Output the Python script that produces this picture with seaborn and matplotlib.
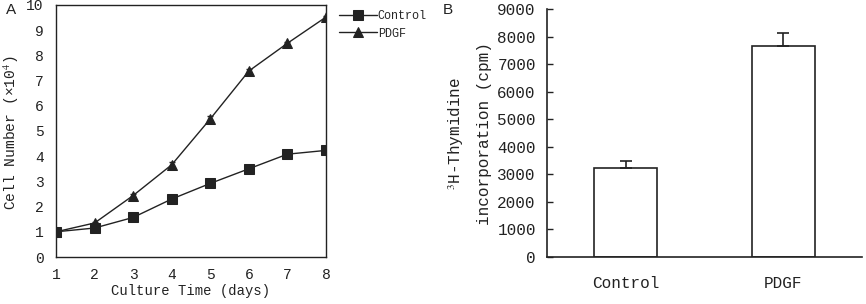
import matplotlib
matplotlib.use("Agg")
import matplotlib.pyplot as plt
import seaborn as sns
import pandas as pd

# growth curve (panel A)
days = [1, 2, 3, 4, 5, 6, 7, 8]
control_cells = [1.0, 1.15, 1.57, 2.30, 2.92, 3.50, 4.08, 4.23]
pdgf_cells = [1.0, 1.35, 2.44, 3.66, 5.48, 7.38, 8.48, 9.52]
pdgf_err = [0.03, 0.05, 0.06, 0.1, 0.1, 0.08, 0.06, 0.05]

# thymidine incorporation (panel B)
groups = ["Control", "PDGF"]
cpm = [3230, 7680]
cpm_err = [260, 470]

sns.set_theme(style="white")
plt.rcParams["font.family"] = ["Liberation Mono", "DejaVu Sans"]
plt.rcParams["mathtext.fontset"] = "stix"
ink = "#222222"

fig = plt.figure(figsize=(8.66, 3.04), dpi=100)
axA = fig.add_axes([0.0647, 0.1546, 0.3117, 0.829])
axB = fig.add_axes([0.6316, 0.1546, 0.3638, 0.815])

# ---- panel A ----
growth = pd.DataFrame({
    "day": days * 2,
    "cells": control_cells + pdgf_cells,
    "group": ["Control"] * len(days) + ["PDGF"] * len(days),
})
sns.lineplot(data=growth, x="day", y="cells", hue="group", style="group",
             markers={"Control": "s", "PDGF": "^"}, dashes=False,
             palette={"Control": ink, "PDGF": ink}, markersize=6.5,
             linewidth=1, markeredgecolor=ink, ax=axA)
axA.errorbar(days, pdgf_cells, yerr=pdgf_err, fmt="none", ecolor=ink,
             elinewidth=0.8, capsize=2.5)
axA.set_xlim(1, 8)
axA.set_ylim(0, 10)
axA.set_xticks(days)
axA.set_yticks(range(0, 11))
axA.tick_params(direction="in", length=3, width=0.8, color=ink,
                labelsize=10.5, labelcolor=ink)
axA.tick_params(axis="y", pad=9)
axA.tick_params(axis="x", pad=8)
for s in axA.spines.values():
    s.set_color(ink)
    s.set_linewidth(1)
axA.set_xlabel("Culture Time (days)", fontsize=10, color=ink)
axA.xaxis.set_label_coords(0.5, -0.108)
axA.set_ylabel("Cell Number (×10$^4$) ", fontsize=10.5, color=ink)
axA.yaxis.set_label_coords(-0.128, 0.5)
axA.legend(loc="upper left", bbox_to_anchor=(1.03, 1.0), frameon=False,
           handlelength=3.2, handletextpad=0.1, fontsize=8.5,
           labelspacing=0.5, borderaxespad=0)

# ---- panel B ----
bars = pd.DataFrame({"group": groups, "cpm": cpm})
sns.barplot(data=bars, x="group", y="cpm", color="white", edgecolor=ink,
            linewidth=1.2, width=0.4, errorbar=None, ax=axB)
axB.errorbar([0, 1], cpm, yerr=[[0, 0], cpm_err], fmt="none", ecolor=ink,
             elinewidth=1.2, capsize=4, capthick=1.2)
axB.set_xlim(-0.5, 1.5)
axB.set_ylim(0, 9000)
axB.set_yticks(range(0, 9001, 1000))
axB.set_xticks([-0.5, 0.5, 1.5], minor=True)
axB.tick_params(axis="x", which="major", length=0, labelsize=11.5,
                labelcolor=ink, pad=14)
axB.tick_params(axis="x", which="minor", direction="in", length=4,
                width=1, color=ink)
axB.tick_params(axis="y", direction="in", length=4, width=1, color=ink,
                labelsize=11.5, labelcolor=ink, pad=8, left=True)
sns.despine(ax=axB)
for s in ("left", "bottom"):
    axB.spines[s].set_color(ink)
    axB.spines[s].set_linewidth(1.2)
axB.set_xlabel("")
axB.set_ylabel("$^3$H-Thymidine\nincorporation (cpm)", fontsize=11.5,
               color=ink, linespacing=1.9, labelpad=4)

# panel letters
fig.text(0.007, 0.99, "A", fontsize=11, family="Liberation Sans",
         va="top", color=ink)
fig.text(0.511, 0.99, "B", fontsize=11, family="Liberation Sans",
         va="top", color=ink)

fig.savefig("out.png", dpi=100)
